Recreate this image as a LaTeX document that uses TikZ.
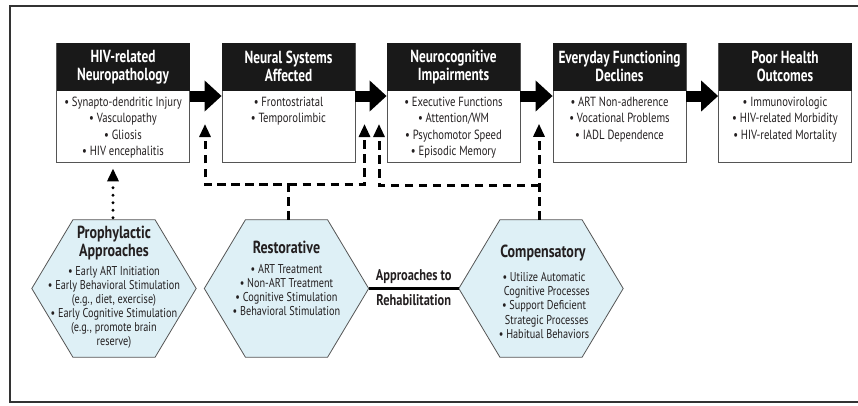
\documentclass[tikz,border=0pt]{standalone}
\usepackage{fontspec}
\setmainfont{PT Sans}[FakeStretch=0.8]
\newfontfamily\hdfont{PT Sans}[FakeStretch=0.76]
\usetikzlibrary{arrows.meta,calc}
\definecolor{ink}{HTML}{231F20}
\definecolor{hexfillc}{HTML}{DEF0F6}
\definecolor{edgec}{HTML}{555555}
\newcommand{\hexpath}[1]{(#1.west) -- ($(#1.north west)!.25!(#1.north east)$) -- ($(#1.north west)!.75!(#1.north east)$) -- (#1.east) -- ($(#1.south west)!.75!(#1.south east)$) -- ($(#1.south west)!.25!(#1.south east)$) -- cycle}
\begin{document}
\begin{tikzpicture}[x=1pt,y=-1pt,
  box/.style={draw=edgec,line width=0.8pt,fill=white,minimum width=133pt,minimum height=119pt,inner sep=0pt},
  hdr/.style={fill=black!90,text=white,minimum width=133pt,minimum height=48pt,inner sep=0pt,align=center,anchor=north,font=\hdfont\bfseries\fontsize{17.5}{18}\selectfont},
  bodytxt/.style={text=ink,align=center,anchor=north,inner sep=0pt,font=\fontsize{13.3}{16.3}\selectfont},
  hexnode/.style={minimum width=164pt,minimum height=137pt,inner sep=0pt},
  hexdraw/.style={draw=edgec,line width=0.8pt,fill=hexfillc},
  hexttl/.style={text=ink,align=center,inner sep=0pt,font=\bfseries\fontsize{17.5}{18.5}\selectfont},
  hexitm/.style={text=ink,align=center,inner sep=0pt,font=\fontsize{12.8}{14.1}\selectfont},
  blockarr/.style={line width=11pt,draw=black,-{Triangle[length=17pt,width=30pt]}},
  dasharr/.style={line width=3pt,draw=black,dash pattern=on 8.5pt off 5.5pt,-{Triangle[length=13pt,width=11pt]}},
  dotarr/.style={line width=3.2pt,draw=black,line cap=round,dash pattern=on 0pt off 7.5pt,-{Triangle[length=13pt,width=11pt]}},
  apptxt/.style={text=ink,inner sep=0pt,font=\bfseries\fontsize{15.5}{18}\selectfont},
  frame/.style={draw=black!80,line width=1.5pt}
]
\useasboundingbox (0,0) rectangle (858,405);
\draw[frame] (870,6) -- (10,6) -- (10,402) -- (870,402);

% boxes
\node[box] (b1) at (123,102.5) {};
\node[box] (b2) at (288.5,102.5) {};
\node[box] (b3) at (453.5,102.5) {};
\node[box] (b4) at (619.5,102.5) {};
\node[box] (b5) at (785,102.5) {};
\node[hdr] (h1) at (b1.north) {HIV-related\\Neuropathology};
\node[hdr] (h2) at (b2.north) {Neural Systems\\Affected};
\node[hdr] (h3) at (b3.north) {Neurocognitive\\Impairments};
\node[hdr] (h4) at (b4.north) {Everyday Functioning\\Declines};
\node[hdr] (h5) at (b5.north) {Poor Health\\Outcomes};
\node[bodytxt] (t1) at ([yshift=-6pt]h1.south) {\textbullet\ Synapto-dendritic Injury\\\textbullet\ Vasculopathy\\\textbullet\ Gliosis\\\textbullet\ HIV encephalitis};
\node[bodytxt] (t2) at ([yshift=-6pt]h2.south) {\textbullet\ Frontostriatal\\\textbullet\ Temporolimbic};
\node[bodytxt] (t3) at ([yshift=-6pt]h3.south) {\textbullet\ Executive Functions\\\textbullet\ Attention/WM\\\textbullet\ Psychomotor Speed\\\textbullet\ Episodic Memory};
\node[bodytxt] (t4) at ([yshift=-6pt]h4.south) {\textbullet\ ART Non-adherence\\\textbullet\ Vocational Problems\\\textbullet\ IADL Dependence};
\node[bodytxt] (t5) at ([yshift=-6pt]h5.south) {\textbullet\ Immunovirologic\\\textbullet\ HIV-related Morbidity\\\textbullet\ HIV-related Mortality};

% block arrows
\foreach \a/\b in {b1/b2,b2/b3,b3/b4,b4/b5}
  \draw[blockarr] ([yshift=6.5pt]\a.east) -- ([yshift=6.5pt]\b.west);

% hexagons
\node[hexnode] (proph) at (114,288.5) {};
\node[hexnode] (rest) at (286.5,288.5) {};
\node[hexnode] (comp) at (541,288.5) {};
\draw[hexdraw] \hexpath{proph};
\draw[hexdraw] \hexpath{rest};
\draw[hexdraw] \hexpath{comp};

\node[hexttl] (pT) at (114,243) {Prophylactic\\Approaches};
\node[hexitm] (pI) at (114,307.5) {\textbullet\ Early ART Initiation\\\textbullet\ Early Behavioral Stimulation\\(e.g., diet, exercise)\\\textbullet\ Early Cognitive Stimulation\\(e.g., promote brain\\reserve)};
\node[hexttl] (rT) at (286.5,247) {Restorative};
\node[hexitm] (rI) at (286.5,290) {\textbullet\ ART Treatment\\\textbullet\ Non-ART Treatment\\\textbullet\ Cognitive Stimulation\\\textbullet\ Behavioral Stimulation};
\node[hexttl] (cT) at (543,253) {Compensatory};
\node[hexitm] (cI) at (544,305.5) {\textbullet\ Utilize Automatic\\\ \ Cognitive Processes\\\textbullet\ Support Deficient\\\ \ Strategic Processes\\\textbullet\ Habitual Behaviors};

% approaches to rehabilitation
\draw[line width=3pt,draw=black] (rest.east) -- (comp.west)
  node[apptxt,midway,above=3pt] (ap1) {Approaches to}
  node[apptxt,midway,below=4pt] (ap2) {Rehabilitation};

% dashed / dotted connectors
\coordinate (tipA) at (205,124);
\coordinate (tipB) at (364.5,124);
\coordinate (tipC) at (379,124);
\coordinate (tipD) at ($(comp.north)+(-2,-96)$);
\coordinate (rj) at ($(rest.north)+(2,-35)$);
\coordinate (cj) at ($(comp.north)+(-2,-34)$);
\draw[dasharr] ($(rest.north)+(2,0)$) -- (rj) -| (tipA);
\draw[dasharr] (rj) -| (tipB);
\draw[dasharr] ($(comp.north)+(-2,0)$) -- (tipD);
\draw[dasharr] (cj) -| (tipC);
\draw[dotarr] ($(proph.north)+(-1,-2)$) -- ($(proph.north |- b1.south)+(-1,6)$);
\end{tikzpicture}
\end{document}
